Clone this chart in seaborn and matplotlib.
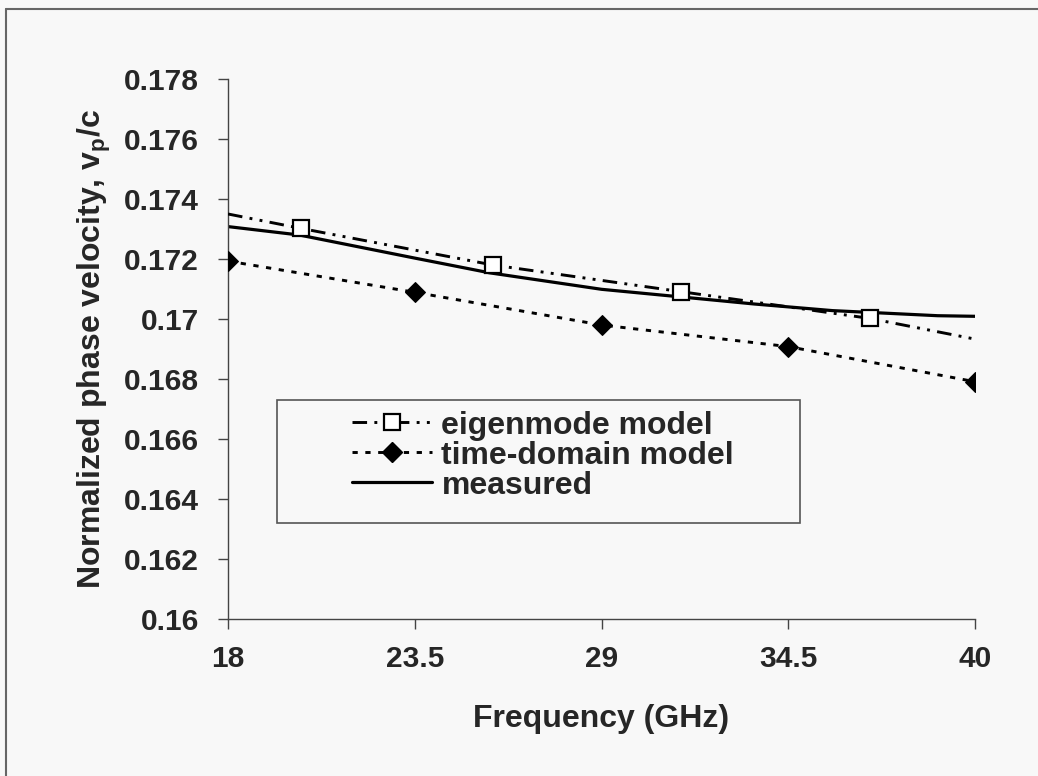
import matplotlib
matplotlib.use("Agg")
import matplotlib.pyplot as plt
from matplotlib.lines import Line2D
from matplotlib.patches import Rectangle
import seaborn as sns

# eigenmode model (line runs 18..40, markers only at the inner points)
eigen_freq = [18, 20.15, 25.8, 31.35, 36.9, 40]
eigen_vals = [0.1735, 0.17302, 0.1718, 0.17091, 0.17002, 0.16933]

# time-domain model
td_freq = [18, 23.5, 29, 34.5, 40]
td_vals = [0.17193, 0.17089, 0.1698, 0.16908, 0.16791]

# measured
meas_freq = [18, 20.1, 23.5, 25.7, 29.0, 31.3, 33.5, 35.8, 38.9, 40]
meas_vals = [0.17308, 0.1728, 0.17203, 0.17154, 0.17099, 0.17074, 0.1705, 0.17028, 0.17011, 0.17009]

x_ticks = [18, 23.5, 29, 34.5, 40]
y_ticks = [0.16, 0.162, 0.164, 0.166, 0.168, 0.17, 0.172, 0.174, 0.176, 0.178]

sns.set_style("ticks")
plt.rcParams["font.family"] = ["Liberation Sans", "DejaVu Sans"]
plt.rcParams["font.weight"] = "bold"
plt.rcParams["mathtext.fontset"] = "custom"
plt.rcParams["mathtext.rm"] = "Liberation Sans:bold"
plt.rcParams["mathtext.bf"] = "Liberation Sans:bold"

bg = "#f8f8f8"
fig = plt.figure(figsize=(10.38, 7.76), dpi=100, facecolor=bg)
ax = fig.add_axes([0.2197, 0.2023, 0.7196, 0.6959])
ax.set_facecolor(bg)

eigen_ls = (0, (5, 2.5, 1, 2.5, 1, 2.5))
td_ls = (0, (1.8, 2.6))
lw = 2.1

sns.lineplot(x=eigen_freq, y=eigen_vals, ax=ax, color="black", lw=lw,
             linestyle=eigen_ls, marker="s", markevery=[1, 2, 3, 4],
             markersize=11.5, markerfacecolor="white", markeredgecolor="black",
             markeredgewidth=1.6, zorder=3)
sns.lineplot(x=td_freq, y=td_vals, ax=ax, color="black", lw=lw,
             linestyle=td_ls, marker="D", markersize=10,
             markerfacecolor="black", markeredgecolor="black", zorder=3)
sns.lineplot(x=meas_freq, y=meas_vals, ax=ax, color="black", lw=2.3, zorder=2)

ax.set_xlim(18, 40)
ax.set_ylim(0.16, 0.178)
ax.set_xticks(x_ticks)
ax.set_xticklabels([f"{v:g}" for v in x_ticks])
ax.set_yticks(y_ticks)
ax.set_yticklabels([f"{v:g}" for v in y_ticks])
ax.tick_params(axis="both", direction="out", length=7, width=1, color="#444444",
               labelsize=21.5)
ax.tick_params(axis="x", pad=12)
ax.tick_params(axis="y", pad=14)
for lab in ax.get_xticklabels() + ax.get_yticklabels():
    lab.set_fontweight("bold")

sns.despine(ax=ax)
for side in ("left", "bottom"):
    ax.spines[side].set_color("#444444")
    ax.spines[side].set_linewidth(1)

ax.set_xlabel("Frequency (GHz)", fontsize=23, fontweight="bold")
ax.set_ylabel(r"Normalized phase velocity, v$_\mathbf{p}$/c", fontsize=23,
              fontweight="bold")
ax.xaxis.set_label_coords(0.5, -0.158)
ax.yaxis.set_label_coords(-0.154, 0.5)

# legend box and entries
ax.add_patch(Rectangle((0.0651, 0.1783), 0.70, 0.2273, transform=ax.transAxes,
                       facecolor=bg, edgecolor="#555555", lw=1.2, zorder=4))
handles = [
    Line2D([], [], color="black", lw=lw, linestyle=eigen_ls, marker="s",
           markersize=11.5, markerfacecolor="white", markeredgecolor="black",
           markeredgewidth=1.6),
    Line2D([], [], color="black", lw=lw, linestyle=td_ls, marker="D",
           markersize=10, markerfacecolor="black"),
    Line2D([], [], color="black", lw=2.3),
]
labels = ["eigenmode model", "time-domain model", "measured"]
leg = ax.legend(handles, labels, loc="upper left", bbox_to_anchor=(0.166, 0.386),
                frameon=False, borderpad=0, borderaxespad=0, handlelength=2.5,
                handletextpad=0.3, labelspacing=0.0,
                prop={"size": 23, "weight": "bold"})
leg.set_zorder(5)

# outer frame of the original figure
fig.add_artist(Line2D([0.006, 0.006], [0.0, 0.988], transform=fig.transFigure,
                      color="#666666", lw=1.5))
fig.add_artist(Line2D([0.006, 1.0], [0.988, 0.988], transform=fig.transFigure,
                      color="#666666", lw=1.5))

fig.savefig("out.png", dpi=100, facecolor=bg)
